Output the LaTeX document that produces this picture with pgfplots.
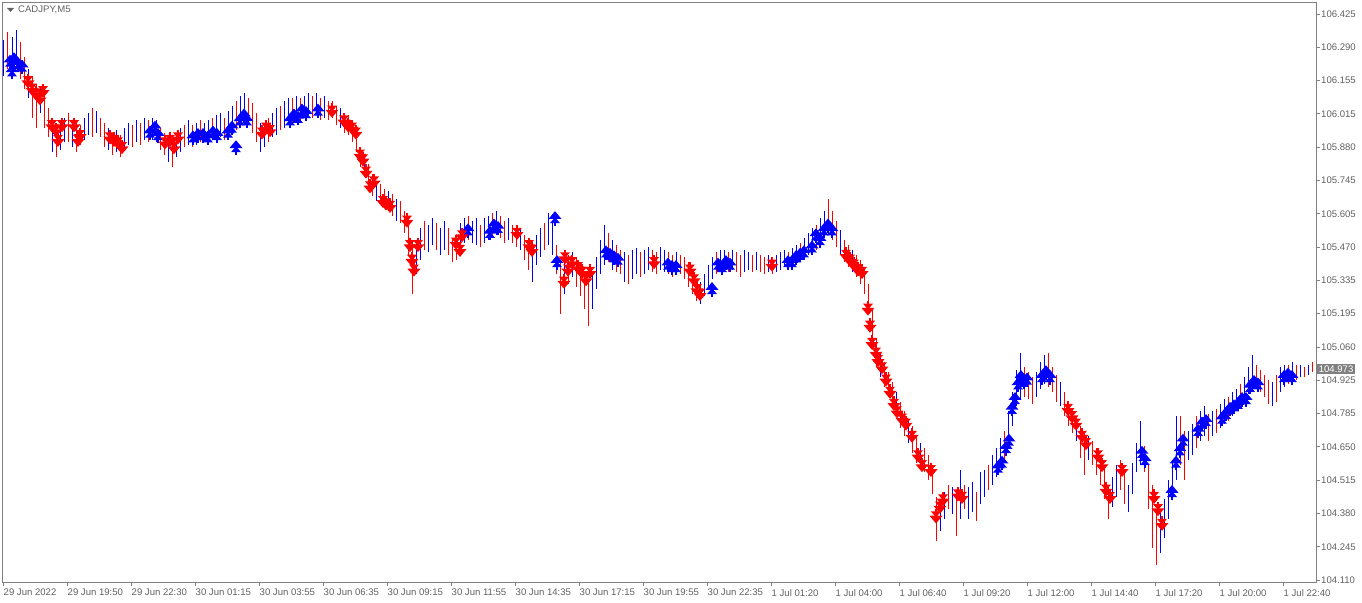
\documentclass[border=0pt]{standalone}
\usepackage{pgfplots}
\usepackage{pgfplotstable}
\pgfplotsset{compat=1.18}
\usepackage{fontspec}
\setmainfont{Liberation Sans}

\definecolor{mtred}{RGB}{255,0,0}
\definecolor{mtblue}{RGB}{0,0,255}
\definecolor{frame}{RGB}{128,128,128}
\definecolor{lbl}{RGB}{96,96,96}

% signal arrows (MT4 style)
\pgfdeclareplotmark{dnarrow}{%
  \pgfpathrectanglecorners{\pgfpoint{-1.3bp}{1bp}}{\pgfpoint{1.3bp}{7.5bp}}\pgfusepathqfill
  \pgfpathmoveto{\pgfpoint{-5bp}{5bp}}\pgfpathlineto{\pgfpoint{5bp}{5bp}}\pgfpathlineto{\pgfpoint{0bp}{-1bp}}\pgfpathclose\pgfusepathqfill
  \pgfpathmoveto{\pgfpoint{-6.5bp}{0.8bp}}\pgfpathlineto{\pgfpoint{6.5bp}{0.8bp}}\pgfpathlineto{\pgfpoint{0bp}{-7bp}}\pgfpathclose\pgfusepathqfill}
\pgfdeclareplotmark{uparrow}{%
  \pgfpathrectanglecorners{\pgfpoint{-1.3bp}{-1bp}}{\pgfpoint{1.3bp}{-7.5bp}}\pgfusepathqfill
  \pgfpathmoveto{\pgfpoint{-5bp}{-5bp}}\pgfpathlineto{\pgfpoint{5bp}{-5bp}}\pgfpathlineto{\pgfpoint{0bp}{1bp}}\pgfpathclose\pgfusepathqfill
  \pgfpathmoveto{\pgfpoint{-6.5bp}{-0.8bp}}\pgfpathlineto{\pgfpoint{6.5bp}{-0.8bp}}\pgfpathlineto{\pgfpoint{0bp}{7bp}}\pgfpathclose\pgfusepathqfill}

% M5 bars: x position, low, high, colour (1 blue, 0 red)
\pgfplotstableread{
x lo hi c
4 106.17 106.32 1
8 106.20 106.35 0
12 106.19 106.33 1
16 106.21 106.36 1
20 106.16 106.31 0
24 106.12 106.25 0
28 106.08 106.20 1
32 106.00 106.17 0
36 105.96 106.14 0
40 106.02 106.13 1
44 105.96 106.10 0
48 105.92 106.04 0
52 105.86 105.99 1
56 105.84 105.96 0
60 105.87 105.98 1
64 105.90 106.00 1
68 105.90 106.02 0
72 105.88 105.99 1
76 105.86 105.98 0
80 105.89 105.97 0
84 105.91 106.00 1
88 105.93 106.02 1
92 105.92 106.04 0
96 105.94 106.03 1
100 105.92 106.00 0
104 105.88 105.98 0
108 105.87 105.96 1
112 105.85 105.94 0
116 105.86 105.95 1
120 105.84 105.93 0
124 105.87 105.96 1
128 105.89 105.98 1
132 105.88 105.97 0
136 105.90 105.99 1
140 105.89 105.98 0
144 105.91 106.00 1
148 105.90 105.99 0
152 105.91 106.00 1
156 105.90 105.99 1
160 105.87 105.96 0
164 105.85 105.94 0
168 105.82 105.93 1
172 105.80 105.92 0
176 105.84 105.93 1
180 105.86 105.96 1
184 105.88 105.97 0
188 105.89 105.99 1
192 105.88 105.97 0
196 105.89 105.98 1
200 105.90 105.99 0
204 105.90 105.98 1
208 105.89 105.99 1
212 105.91 106.00 0
216 105.90 106.01 1
220 105.92 106.02 1
224 105.91 106.00 0
228 105.92 106.03 1
232 105.94 106.05 1
236 105.95 106.07 0
240 105.96 106.09 1
244 105.98 106.10 1
248 105.97 106.08 0
252 105.94 106.06 0
256 105.90 106.02 0
260 105.86 105.98 1
264 105.88 105.98 1
268 105.90 106.00 0
272 105.92 106.02 1
276 105.93 106.04 1
280 105.95 106.05 0
284 105.96 106.07 1
288 105.97 106.08 1
292 105.98 106.08 0
296 105.99 106.09 1
300 105.99 106.08 0
304 106.00 106.09 1
308 106.01 106.10 1
312 106.00 106.09 0
316 106.01 106.10 1
320 105.99 106.08 0
324 106.00 106.09 1
328 105.99 106.07 0
332 106.00 106.07 0
336 105.97 106.05 0
340 105.96 106.04 1
344 105.94 106.02 0
348 105.93 106.01 0
352 105.90 105.98 0
356 105.86 105.95 0
360 105.80 105.88 0
364 105.76 105.85 1
368 105.72 105.81 0
372 105.68 105.77 0
376 105.66 105.74 1
380 105.65 105.73 0
384 105.63 105.71 0
388 105.62 105.70 1
392 105.60 105.69 0
396 105.58 105.67 1
400 105.57 105.66 0
404 105.53 105.62 0
408 105.44 105.58 0
412 105.28 105.50 0
416 105.36 105.50 1
420 105.42 105.55 1
424 105.46 105.58 0
428 105.45 105.56 1
432 105.48 105.59 1
436 105.46 105.57 0
440 105.44 105.55 1
444 105.46 105.58 1
448 105.44 105.55 0
452 105.41 105.51 0
456 105.42 105.52 0
460 105.46 105.57 1
464 105.49 105.59 1
468 105.50 105.60 0
472 105.49 105.58 1
476 105.48 105.59 1
480 105.47 105.56 0
484 105.49 105.59 1
488 105.50 105.60 1
492 105.51 105.61 0
496 105.52 105.62 1
500 105.51 105.60 0
504 105.49 105.58 0
508 105.50 105.59 1
512 105.49 105.56 0
516 105.47 105.55 0
520 105.46 105.55 1
524 105.42 105.52 0
528 105.38 105.49 0
532 105.33 105.48 1
536 105.40 105.52 1
540 105.43 105.55 1
544 105.46 105.57 0
548 105.48 105.61 1
552 105.44 105.57 1
556 105.36 105.48 0
560 105.20 105.42 0
564 105.28 105.41 1
568 105.32 105.44 0
572 105.35 105.45 1
576 105.31 105.43 0
580 105.27 105.40 0
584 105.22 105.36 0
588 105.15 105.33 0
592 105.22 105.37 1
596 105.30 105.43 1
600 105.36 105.50 1
604 105.40 105.56 1
608 105.41 105.53 0
612 105.38 105.50 1
616 105.37 105.48 0
620 105.36 105.46 0
624 105.33 105.45 1
628 105.32 105.44 0
632 105.34 105.46 1
636 105.36 105.47 1
640 105.35 105.45 0
644 105.36 105.46 1
648 105.38 105.47 1
652 105.37 105.46 0
656 105.36 105.45 0
660 105.38 105.47 1
664 105.37 105.46 1
668 105.36 105.45 0
672 105.35 105.44 0
676 105.37 105.45 1
680 105.36 105.44 0
684 105.34 105.43 0
688 105.31 105.41 0
692 105.28 105.38 0
696 105.25 105.34 0
700 105.24 105.33 1
704 105.27 105.36 1
708 105.31 105.40 1
712 105.34 105.43 1
716 105.36 105.45 0
720 105.37 105.46 1
724 105.38 105.46 1
728 105.37 105.45 0
732 105.38 105.46 1
736 105.37 105.45 0
740 105.35 105.44 0
744 105.37 105.46 1
748 105.38 105.45 1
752 105.37 105.44 0
756 105.38 105.45 1
760 105.37 105.44 0
764 105.36 105.43 0
768 105.37 105.44 1
772 105.36 105.43 0
776 105.37 105.44 1
780 105.38 105.45 1
784 105.39 105.46 1
788 105.38 105.45 0
792 105.39 105.47 1
796 105.40 105.48 1
800 105.41 105.49 0
804 105.42 105.51 1
808 105.44 105.53 1
812 105.45 105.55 1
816 105.46 105.56 0
820 105.49 105.59 1
824 105.51 105.62 1
828 105.52 105.67 0
832 105.50 105.62 0
836 105.47 105.58 0
840 105.44 105.54 1
844 105.41 105.50 0
848 105.39 105.48 0
852 105.37 105.46 1
856 105.35 105.44 0
860 105.32 105.42 0
864 105.28 105.39 0
868 105.20 105.32 0
872 105.06 105.22 0
876 104.98 105.10 0
880 104.94 105.04 1
884 104.90 105.00 0
888 104.86 104.96 0
892 104.82 104.92 0
896 104.78 104.88 1
900 104.73 104.84 0
904 104.70 104.80 0
908 104.67 104.77 1
912 104.63 104.74 0
916 104.59 104.70 0
920 104.57 104.67 1
924 104.55 104.65 0
928 104.52 104.62 0
932 104.46 104.58 0
936 104.27 104.45 0
940 104.31 104.44 1
944 104.36 104.47 1
948 104.40 104.50 0
952 104.38 104.49 1
956 104.29 104.48 0
960 104.36 104.56 1
964 104.40 104.50 0
968 104.36 104.49 1
972 104.39 104.51 1
976 104.35 104.47 0
980 104.42 104.55 1
984 104.45 104.56 1
988 104.48 104.58 0
992 104.50 104.62 1
996 104.53 104.65 1
1000 104.57 104.69 1
1004 104.60 104.72 0
1008 104.66 104.80 1
1012 104.74 104.88 1
1016 104.82 104.97 1
1020 104.85 105.04 1
1024 104.86 104.98 0
1028 104.85 104.96 0
1032 104.83 104.94 0
1036 104.86 104.96 1
1040 104.89 105.00 1
1044 104.91 105.03 1
1048 104.90 105.04 0
1052 104.88 104.98 0
1056 104.84 104.95 0
1060 104.82 104.92 1
1064 104.78 104.88 0
1068 104.74 104.84 0
1072 104.71 104.81 0
1076 104.68 104.78 1
1080 104.61 104.74 0
1084 104.54 104.72 0
1088 104.60 104.70 1
1092 104.58 104.68 0
1096 104.54 104.65 0
1100 104.50 104.61 0
1104 104.44 104.57 0
1108 104.36 104.50 0
1112 104.41 104.53 1
1116 104.45 104.58 1
1120 104.48 104.60 0
1124 104.42 104.55 0
1128 104.39 104.50 1
1132 104.46 104.59 1
1136 104.55 104.67 1
1140 104.58 104.76 1
1144 104.55 104.66 0
1148 104.40 104.58 0
1152 104.24 104.50 0
1156 104.17 104.40 0
1160 104.22 104.40 1
1164 104.28 104.44 1
1168 104.36 104.52 1
1172 104.44 104.60 1
1176 104.52 104.78 1
1180 104.58 104.78 0
1184 104.52 104.72 0
1188 104.60 104.72 1
1192 104.62 104.75 1
1196 104.65 104.78 0
1200 104.68 104.80 1
1204 104.70 104.82 1
1208 104.68 104.79 0
1212 104.70 104.80 1
1216 104.71 104.81 0
1220 104.73 104.83 1
1224 104.75 104.85 1
1228 104.76 104.86 0
1232 104.78 104.88 1
1236 104.80 104.89 1
1240 104.81 104.91 0
1244 104.83 104.94 1
1248 104.87 104.98 1
1252 104.88 105.03 1
1256 104.89 104.99 0
1260 104.88 104.97 0
1264 104.86 104.95 0
1268 104.83 104.93 0
1272 104.82 104.92 1
1276 104.84 104.95 0
1280 104.88 104.98 1
1284 104.90 104.99 1
1288 104.91 104.99 0
1292 104.92 105.00 1
1296 104.93 104.99 0
1300 104.94 104.99 1
1304 104.94 104.98 0
1308 104.95 104.99 1
1312 104.96 105.00 0
}\bars

% buy signals
\pgfplotstableread{
x y
10 106.23
14 106.24
18 106.22
22 106.21
12 106.19
150 105.94
155 105.96
158 105.93
193 105.92
198 105.93
203 105.93
208 105.92
213 105.94
217 105.93
228 105.94
232 105.96
236 105.88
240 105.99
244 106.01
247 105.99
290 105.99
294 106.01
298 106.00
302 106.03
306 106.02
318 106.03
468 105.54
490 105.53
494 105.56
498 105.55
555 105.59
557 105.41
606 105.45
610 105.44
614 105.43
618 105.42
668 105.40
672 105.39
676 105.39
712 105.30
718 105.40
722 105.39
726 105.41
730 105.40
788 105.41
792 105.41
796 105.43
800 105.44
804 105.45
812 105.47
816 105.52
820 105.50
824 105.54
828 105.56
832 105.54
998 104.57
1002 104.59
1006 104.65
1009 104.68
1012 104.81
1015 104.85
1018 104.91
1021 104.94
1024 104.92
1027 104.93
1042 104.94
1046 104.96
1050 104.94
1142 104.63
1145 104.60
1172 104.47
1176 104.59
1180 104.64
1183 104.68
1198 104.72
1202 104.75
1206 104.76
1222 104.77
1226 104.79
1230 104.81
1234 104.82
1238 104.83
1242 104.85
1246 104.85
1250 104.90
1254 104.92
1258 104.91
1284 104.94
1288 104.95
1292 104.94
}\buys

% sell signals
\pgfplotstableread{
x y
28 106.15
32 106.12
36 106.10
40 106.08
43 106.11
52 105.97
56 105.95
58 105.91
62 105.97
74 105.97
78 105.91
80 105.93
110 105.92
114 105.91
118 105.90
122 105.88
165 105.90
170 105.91
174 105.88
178 105.92
262 105.94
266 105.96
270 105.95
332 106.03
344 105.99
348 105.97
352 105.96
356 105.94
360 105.85
363 105.83
366 105.78
370 105.72
374 105.74
383 105.66
386 105.65
390 105.64
407 105.58
410 105.48
412 105.42
414 105.38
418 105.48
456 105.49
460 105.46
462 105.52
517 105.53
529 105.48
532 105.46
564 105.33
565 105.43
568 105.38
572 105.41
578 105.39
582 105.37
586 105.34
590 105.37
654 105.41
690 105.38
694 105.34
697 105.30
700 105.28
772 105.40
846 105.44
850 105.42
854 105.40
858 105.38
862 105.37
868 105.22
870 105.15
872 105.08
876 105.04
878 105.01
882 104.98
886 104.93
890 104.88
894 104.83
897 104.80
902 104.77
906 104.75
912 104.70
918 104.62
922 104.58
931 104.56
936 104.37
940 104.41
943 104.44
958 104.46
962 104.45
1068 104.81
1072 104.78
1076 104.75
1082 104.70
1086 104.67
1098 104.62
1102 104.58
1106 104.48
1110 104.45
1122 104.56
1154 104.45
1158 104.40
1162 104.34
}\sells

\begin{document}
\begin{tikzpicture}
\begin{axis}[
    scale only axis,
    width=1313.5bp, height=579.5bp,
    xmin=2.5, xmax=1316,
    ymin=104.102, ymax=106.472,
    clip mode=individual,
    axis line style={draw=frame, line width=0.8bp},
    tick style={draw=frame, line width=0.8bp},
    tick align=outside,
    major tick length=4bp,
    xtick pos=left,
    ytick pos=right,
    yticklabel pos=right,
    xtick={3,67,...,1283},
    xticklabels={29 Jun 2022, 29 Jun 19:50, 29 Jun 22:30, 30 Jun 01:15, 30 Jun 03:55, 30 Jun 06:35, 30 Jun 09:15, 30 Jun 11:55, 30 Jun 14:35, 30 Jun 17:15, 30 Jun 19:55, 30 Jun 22:35, 1 Jul 01:20, 1 Jul 04:00, 1 Jul 06:40, 1 Jul 09:20, 1 Jul 12:00, 1 Jul 14:40, 1 Jul 17:20, 1 Jul 20:00, 1 Jul 22:40},
    ytick={104.110,104.2462,104.3824,104.5185,104.6547,104.7909,104.9271,105.0632,105.1994,105.3356,105.4718,105.6079,105.7441,105.8803,106.0165,106.1526,106.2888,106.4250},
    yticklabels={104.110,104.245,104.380,104.515,104.650,104.785,104.925,105.060,105.195,105.335,105.470,105.605,105.745,105.880,106.015,106.155,106.290,106.425},
    xticklabel style={anchor=north west, inner sep=0pt, xshift=0.5bp, yshift=-3bp, text=lbl, font=\fontsize{9.6}{11}\selectfont},
    yticklabel style={anchor=west, inner sep=0pt, xshift=1bp, text=lbl, font=\fontsize{9.6}{11}\selectfont},
]
\addplot[draw=none, mark=none, forget plot,
    restrict expr to domain={\thisrow{c}}{0.5:1.5},
    error bars/.cd, y dir=plus, y explicit, error mark=none,
    error bar style={draw=mtblue, line width=1bp}]
    table[x=x, y=lo, y error plus expr={\thisrow{hi}-\thisrow{lo}}] {\bars};
\addplot[draw=none, mark=none, forget plot,
    restrict expr to domain={\thisrow{c}}{-0.5:0.5},
    error bars/.cd, y dir=plus, y explicit, error mark=none,
    error bar style={draw=mtred, line width=1bp}]
    table[x=x, y=lo, y error plus expr={\thisrow{hi}-\thisrow{lo}}] {\bars};
\addplot[only marks, mark=uparrow, color=mtblue, mark options={fill=mtblue}] table[x=x, y=y] {\buys};
\addplot[only marks, mark=dnarrow, color=mtred, mark options={fill=mtred}] table[x=x, y=y] {\sells};
\node[anchor=west, fill=frame, text=white, inner sep=1.6bp, font=\fontsize{9.6}{11}\selectfont]
    at (axis cs:1317,104.973) {104.973};
\end{axis}
\path (current axis.south west) ++(-2.5bp,-21bp) rectangle ++(1362bp,603bp);
\fill[lbl] ([xshift=4.5bp,yshift=-5.5bp]current axis.north west) -- ++(7bp,0) -- ++(-3.5bp,-4bp) -- cycle;
\node[anchor=west, inner sep=0pt, text=lbl, font=\fontsize{9.6}{11}\selectfont]
    at ([xshift=15.5bp,yshift=-7.5bp]current axis.north west) {CADJPY,M5};
\end{tikzpicture}
\end{document}
